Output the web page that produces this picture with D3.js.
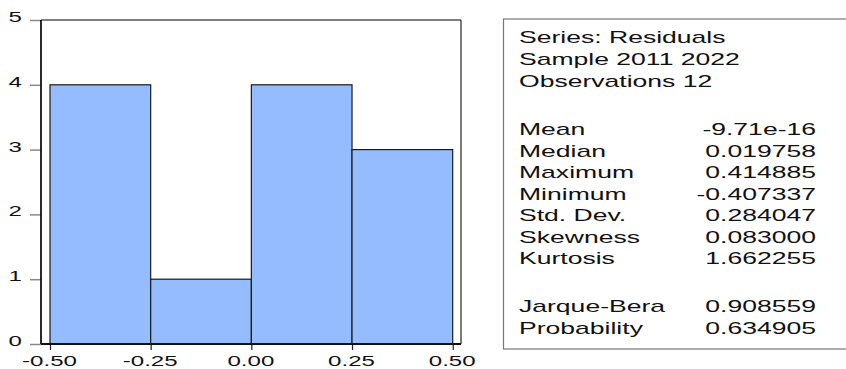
<!DOCTYPE html>
<html>
<head>
<meta charset="utf-8">
<script src="https://cdn.jsdelivr.net/npm/d3@7"></script>
<style>
  html, body { margin: 0; padding: 0; background: #fff; }
  svg { display: block; font-family: "Liberation Sans", Arial, sans-serif; }
</style>
</head>
<body>
<div id="chart"></div>
<script>
"use strict";

// histogram bins of the residuals
const binStarts = [-0.5, -0.25, 0, 0.25];
const binWidth = 0.25;
const counts = [4, 1, 4, 3];

const xTicks = [-0.5, -0.25, 0, 0.25, 0.5];
const xTickLabels = ["-0.50", "-0.25", "0.00", "0.25", "0.50"];
const yTicks = [0, 1, 2, 3, 4, 5];

// stats panel
const headerLines = ["Series: Residuals", "Sample 2011 2022", "Observations 12"];
const statNames = ["Mean", "Median", "Maximum", "Minimum", "Std. Dev.", "Skewness", "Kurtosis"];
const statValues = ["-9.71e-16", "0.019758", "0.414885", "-0.407337", "0.284047", "0.083000", "1.662255"];
const testNames = ["Jarque-Bera", "Probability"];
const testValues = ["0.908559", "0.634905"];

const W = 846, H = 369;
const frame = { left: 41, right: 461, top: 20, bottom: 344 };
// the original graph is stretched sideways, so its glyphs are too
const stretch = 1.66;
const axisStretch = 1.72;

const svg = d3.select("#chart").append("svg")
  .attr("width", W)
  .attr("height", H);

const x = d3.scaleLinear().domain([-0.5, 0.5]).range([50, 452.7]);
const y = d3.scaleLinear().domain([0, 5]).range([frame.bottom, frame.top]);

// frame (top + right lighter)
svg.append("line")
  .attr("x1", frame.left).attr("x2", frame.right)
  .attr("y1", frame.top).attr("y2", frame.top)
  .attr("stroke", "#555").attr("stroke-width", 1.5);
svg.append("line")
  .attr("x1", frame.right).attr("x2", frame.right)
  .attr("y1", frame.top).attr("y2", frame.bottom)
  .attr("stroke", "#222").attr("stroke-width", 1.2);

// bars
svg.append("g")
  .selectAll("rect")
  .data(counts)
  .enter()
  .append("rect")
  .attr("x", (d, i) => x(binStarts[i]))
  .attr("width", (d, i) => x(binStarts[i] + binWidth) - x(binStarts[i]))
  .attr("y", (d) => y(d))
  .attr("height", (d) => y(0) - y(d))
  .attr("fill", "#95bcff")
  .attr("stroke", "#1a1a1a")
  .attr("stroke-width", 1.2);

// y axis
const yAxis = svg.append("g")
  .attr("transform", `translate(${frame.left},0)`)
  .call(d3.axisLeft(y).tickValues(yTicks).tickSize(11).tickFormat(d3.format("d")));
yAxis.select(".domain").remove();
yAxis.selectAll(".tick line").attr("stroke", "#888").attr("stroke-width", 1.5);
yAxis.selectAll(".tick text")
  .attr("x", 0)
  .attr("dy", "0.1em")
  .attr("transform", `translate(-19,0) scale(${axisStretch},1)`)
  .attr("fill", "#111")
  .style("font-size", "14px")
  .style("font-family", "\"Liberation Sans\", Arial, sans-serif");

// x axis
const xAxis = svg.append("g")
  .attr("transform", `translate(0,${frame.bottom})`)
  .call(d3.axisBottom(x).tickValues(xTicks).tickSize(6)
    .tickFormat((d, i) => xTickLabels[i]));
xAxis.select(".domain").remove();
xAxis.selectAll(".tick line").attr("stroke", "#222").attr("stroke-width", 1.2);
xAxis.selectAll(".tick text")
  .attr("y", 0)
  .attr("dy", 0)
  .attr("transform", `translate(-1,22) scale(${axisStretch},1)`)
  .attr("fill", "#111")
  .style("font-size", "14px")
  .style("font-family", "\"Liberation Sans\", Arial, sans-serif");

// left + bottom axis lines
svg.append("line")
  .attr("x1", frame.left).attr("x2", frame.left)
  .attr("y1", frame.top).attr("y2", frame.bottom)
  .attr("stroke", "#111").attr("stroke-width", 1.8);
svg.append("line")
  .attr("x1", frame.left).attr("x2", frame.right)
  .attr("y1", frame.bottom).attr("y2", frame.bottom)
  .attr("stroke", "#111").attr("stroke-width", 1.8);

// stats box
svg.append("rect")
  .attr("x", 503.5).attr("y", 19)
  .attr("width", 360).attr("height", 330)
  .attr("fill", "none")
  .attr("stroke", "#777")
  .attr("stroke-width", 1.2);

const textLeft = 519, textRight = 816;
const lineH = 21.5;

const rows = [];
headerLines.forEach((t, i) => rows.push({ name: t, value: "", y: 43 + i * 22 }));
statNames.forEach((t, i) => rows.push({ name: t, value: statValues[i], y: 135 + i * lineH }));
testNames.forEach((t, i) => rows.push({ name: t, value: testValues[i], y: 312 + i * lineH }));

const stats = svg.append("g").style("font-size", "16px").attr("fill", "#111");
stats.selectAll("text.name")
  .data(rows)
  .enter()
  .append("text")
  .attr("class", "name")
  .attr("transform", (d) => `translate(${textLeft},${d.y}) scale(${stretch},1)`)
  .text((d) => d.name);
stats.selectAll("text.value")
  .data(rows.filter((d) => d.value !== ""))
  .enter()
  .append("text")
  .attr("class", "value")
  .attr("transform", (d) => `translate(${textRight},${d.y}) scale(${stretch},1)`)
  .attr("text-anchor", "end")
  .text((d) => d.value);
</script>
</body>
</html>
